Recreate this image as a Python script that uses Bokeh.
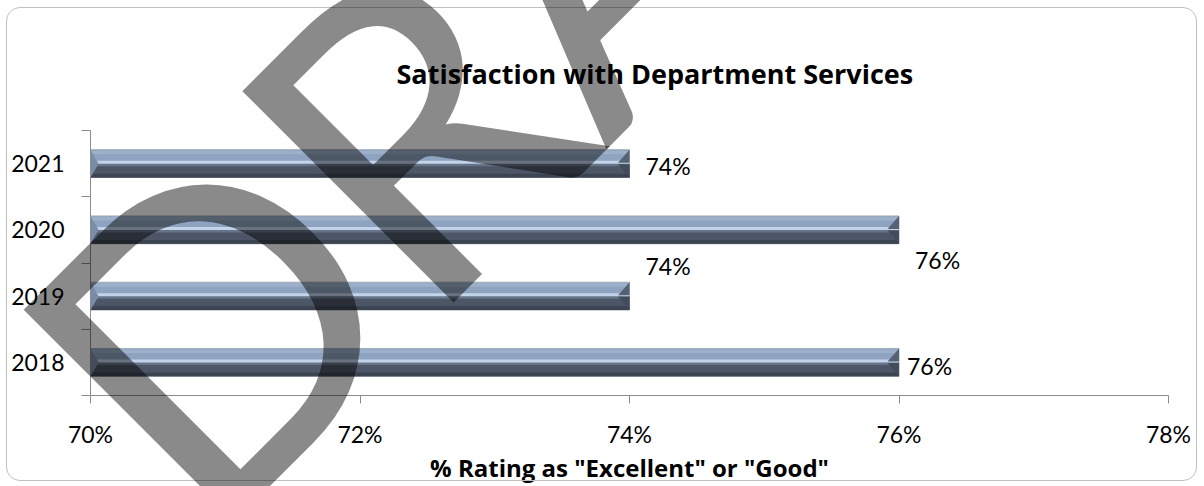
import numpy as np
from bokeh.plotting import figure
from bokeh.models import Range1d, FixedTicker, InlineStyleSheet
from bokeh.embed import file_html
from bokeh.resources import INLINE
from bokeh.core.properties import value

# ---------------- data ----------------
years = ["2018", "2019", "2020", "2021"]
ratings = [76, 74, 76, 74]
x_ticks = [70, 72, 74, 76, 78]
x_tick_labels = ["70%", "72%", "74%", "76%", "78%"]
bar_labels = ["76%", "74%", "76%", "74%"]
title_text = "Satisfaction with Department Services"
x_title = '% Rating as "Excellent" or "Good"'
watermark = "DRAFT"

# ---------------- style ----------------
FONT = "Lato"
TFONT = "Open Sans"
label_dx = [8, 16, 16, 16]
label_dy = [4, -30, 30, 2]
BAR_H = 0.42
X0 = 70

pos = np.arange(len(years)) + 0.5
vals = np.array(ratings, dtype=float)

p = figure(width=1204, height=486, output_backend="svg", toolbar_location=None,
           x_range=Range1d(70, 78), y_range=Range1d(0, 4),
           min_border_left=90, min_border_right=36, min_border_top=130, min_border_bottom=88)
p.background_fill_color = "white"
p.border_fill_color = "white"
p.outline_line_color = None
p.xgrid.visible = False
p.ygrid.visible = False

# ---------------- bars (bevel look) ----------------
h = BAR_H
p.hbar(y=pos, left=X0, right=vals, height=h, fill_color="#8ea3bf", line_color="#a3adba", line_width=1)
p.hbar(y=pos + h * 0.40, left=X0, right=vals, height=h * 0.12, fill_color="#9cb0ca", line_color=None)
p.hbar(y=pos - h * 0.25, left=X0, right=vals, height=h * 0.50, fill_color="#4c5666", line_color=None)
p.hbar(y=pos - h * 0.04, left=X0, right=vals, height=h * 0.10, fill_color="#667489", line_color=None)
p.hbar(y=pos - h * 0.43, left=X0, right=vals, height=h * 0.14, fill_color="#3c4451", line_color=None)
p.hbar(y=pos + h * 0.05, left=X0, right=vals, height=h * 0.10, fill_color="#c3d3e9", line_color=None)

bw = 0.085
lw = 0.06
rxs = [[v - bw, v, v] for v in vals]
rys = [[c + h * 0.03, c + h * 0.5, c + h * 0.03] for c in pos]
p.patches(rxs, rys, fill_color="#566274", line_color=None)
rys2 = [[c - h * 0.02, c - h * 0.02, c - h * 0.5] for c in pos]
p.patches(rxs, rys2, fill_color="#434c5a", line_color=None)
lxs = [[X0, X0 + lw, X0] for _ in vals]
lys = [[c + h * 0.5, c, c - h * 0.5] for c in pos]
p.patches(lxs, lys, fill_color="#7a8da8", line_color=None)

# ---------------- value labels ----------------
p.text(x=vals, y=pos, text=bar_labels, x_offset=label_dx, y_offset=label_dy,
       text_font=value(FONT), text_font_size="23px", text_color="black",
       text_align="left", text_baseline="middle")

# ---------------- axes ----------------
xa = p.xaxis[0]
xa.ticker = FixedTicker(ticks=x_ticks)
xa.major_label_overrides = {t: l for t, l in zip(x_ticks, x_tick_labels)}
xa.major_tick_out = 8
xa.major_tick_in = 0
xa.minor_tick_out = 0
xa.minor_tick_in = 0
xa.axis_line_color = "#8c8c8c"
xa.major_tick_line_color = "#8c8c8c"
xa.major_label_text_font = FONT
xa.major_label_text_font_size = "23px"
xa.major_label_text_color = "black"
xa.major_label_standoff = 16
xa.axis_label = x_title
xa.axis_label_text_font = TFONT
xa.axis_label_text_font_style = "bold"
xa.axis_label_text_font_size = "24px"
xa.axis_label_text_color = "black"
xa.axis_label_standoff = 0

ya = p.yaxis[0]
ya.ticker = FixedTicker(ticks=list(pos), minor_ticks=list(range(len(years) + 1)))
ya.major_label_overrides = {float(c): y for c, y in zip(pos, years)}
ya.major_tick_out = 0
ya.major_tick_in = 0
ya.minor_tick_out = 9
ya.minor_tick_in = 0
ya.axis_line_color = "#8c8c8c"
ya.minor_tick_line_color = "#8c8c8c"
ya.major_label_text_font = FONT
ya.major_label_text_font_size = "23px"
ya.major_label_text_color = "black"
ya.major_label_standoff = 17

# ---------------- title ----------------
p.title.text = title_text
p.title.text_font = TFONT
p.title.text_font_style = "bold"
p.title.text_font_size = "27px"
p.title.text_color = "black"
p.title.align = "left"
p.title.offset = 306
p.title.standoff = 77

# ---------------- chart border + DRAFT watermark (CSS overlay) ----------------
css = """
:host { position: relative; overflow: hidden; }
:host::before {
  content: ""; position: absolute; left: 6px; top: 7px; width: 1191px; height: 474px;
  box-sizing: border-box; border: 1.5px solid #c0c0c0; border-radius: 14px;
  pointer-events: none; z-index: 5;
}
:host::after {
  content: "%s"; position: absolute; left: 208px; top: 178px;
  font-family: Lato; font-size: 417px; line-height: 417px; white-space: nowrap;
  letter-spacing: -8px;
  color: rgba(0, 0, 0, 0.46); transform-origin: 0px 370px; transform: rotate(-45deg);
  pointer-events: none; z-index: 6;
}
""" % watermark
p.stylesheets = [InlineStyleSheet(css=css)]

open("out.html", "w").write(file_html(p, INLINE))
